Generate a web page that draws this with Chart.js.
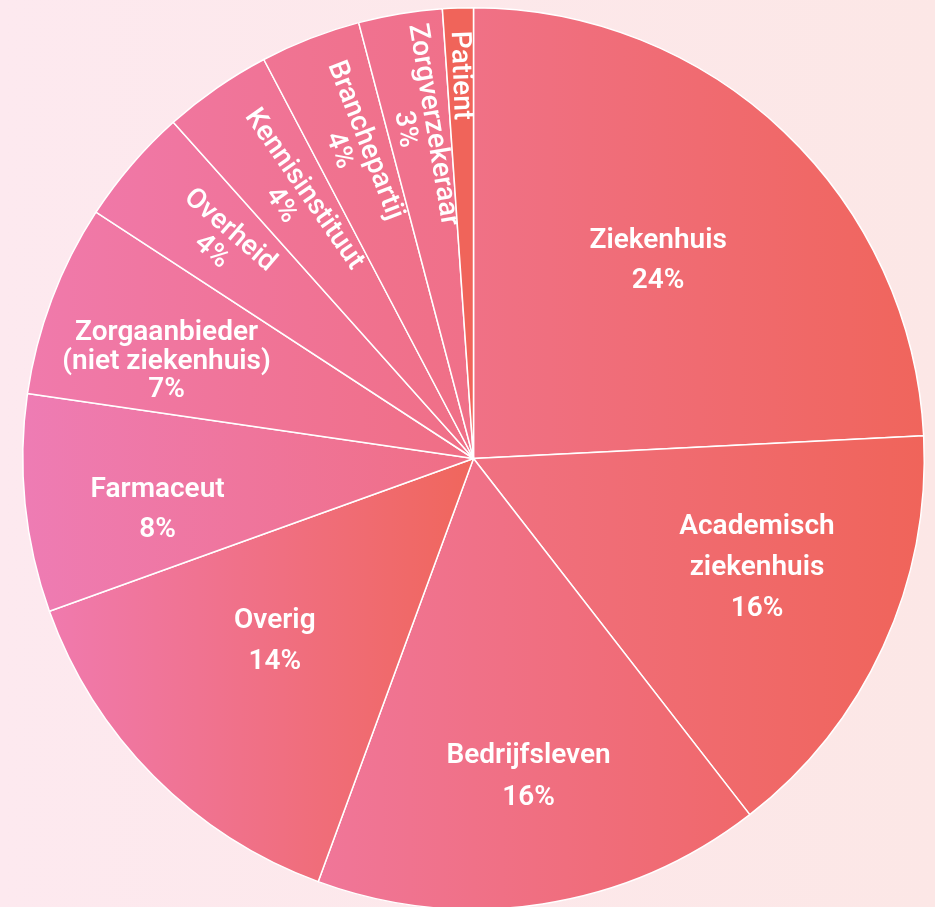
<!DOCTYPE html>
<html>
<head>
<meta charset="utf-8">
<script src="https://cdn.jsdelivr.net/npm/chart.js@4.4.1/dist/chart.umd.min.js"></script>
<style>
  html, body { margin: 0; padding: 0; width: 935px; height: 907px; overflow: hidden; }
  body { background: linear-gradient(to right, #fde9ef, #fce7e6); }
  #c { position: absolute; left: 0; top: 0; }
</style>
</head>
<body>
<canvas id="c" width="935" height="920"></canvas>
<script>
// ---- data ----
const categories = ['Ziekenhuis', 'Academisch ziekenhuis', 'Bedrijfsleven', 'Overig', 'Farmaceut',
  'Zorgaanbieder (niet ziekenhuis)', 'Overheid', 'Kennisinstituut', 'Branchepartij', 'Zorgverzekeraar', 'Patient'];
const values = [24.2, 15.3, 16.1, 13.9, 7.8, 6.9, 4.2, 3.9, 3.6, 3.0, 1.1];
const nameLines = [['Ziekenhuis'], ['Academisch', 'ziekenhuis'], ['Bedrijfsleven'], ['Overig'], ['Farmaceut'],
  ['Zorgaanbieder', '(niet ziekenhuis)'], ['Overheid'], ['Kennisinstituut'], ['Branchepartij'], ['Zorgverzekeraar'], ['Patient']];
const pctLabels = ['24%', '16%', '16%', '14%', '8%', '7%', '4%', '4%', '4%', '3%', ''];

// ---- styles ----
const leftColors  = ['#f07186', '#f07182', '#f07699', '#f07aae', '#ee7cb4', '#f07aac', '#f078a8', '#f0769e', '#f07494', '#f07290', '#f0645a'];
const rightColors = ['#f0655c', '#f0645a', '#f0686a', '#f0665c', '#f06e84', '#f06e84', '#f06f86', '#f06f86', '#f06f86', '#f07088', '#f0645a'];
const labelRadius = [0.60, 0.674, 0.716, 0.60, 0.71, 0.714, 0.74, 0.705, 0.745, 0.745, 0.85];
const labelShift  = [-0.5, -3.6, -1.0, 2.1, -3.5, -3.2, 0, 0, 0, 0, 0];
const rotated     = [false, false, false, false, false, false, true, true, true, true, true];
const lineHeights = [40, 41, 42, 41, 40, 28.5, 28, 28, 28, 28, 28];

function arcBounds(el) {
  const {x, y, startAngle, endAngle, outerRadius} = el;
  const xs = [x, x + outerRadius * Math.cos(startAngle), x + outerRadius * Math.cos(endAngle)];
  for (let k = -4; k <= 4; k++) {
    const a = k * Math.PI / 2;
    if (a > startAngle && a < endAngle) xs.push(x + outerRadius * Math.cos(a));
  }
  return [Math.min(...xs), Math.max(...xs)];
}

function sliceFill(ctx) {
  const i = ctx.dataIndex;
  const el = ctx.chart.getDatasetMeta(0).data[i];
  if (!el || !el.outerRadius) return leftColors[i];
  const [x0, x1] = arcBounds(el);
  const g = ctx.chart.ctx.createLinearGradient(x0, 0, x1, 0);
  g.addColorStop(0, leftColors[i]);
  g.addColorStop(1, rightColors[i]);
  return g;
}

const labelPlugin = {
  id: 'sliceLabels',
  afterDatasetsDraw(chart) {
    const c = chart.ctx;
    const meta = chart.getDatasetMeta(0);
    meta.data.forEach((el, i) => {
      const mid = (el.startAngle + el.endAngle) / 2 + labelShift[i] * Math.PI / 180;
      const r = el.outerRadius * labelRadius[i];
      const px = el.x + r * Math.cos(mid);
      const py = el.y + r * Math.sin(mid);
      const lines = nameLines[i].slice();
      if (pctLabels[i]) lines.push(pctLabels[i]);
      const lh = lineHeights[i];
      c.save();
      c.translate(px, py);
      if (rotated[i]) {
        c.rotate(mid + Math.PI);
        c.font = '500 28px Roboto';
      } else {
        c.font = '600 28px Roboto';
      }
      c.fillStyle = '#ffffff';
      c.textAlign = 'center';
      c.textBaseline = 'middle';
      const n = lines.length;
      lines.forEach((t, k) => {
        c.fillText(t, 0, (k - (n - 1) / 2) * lh);
      });
      c.restore();
    });
  }
};

const chart = new Chart(document.getElementById('c'), {
  type: 'pie',
  data: {
    labels: categories,
    datasets: [{
      data: values,
      backgroundColor: sliceFill,
      borderColor: '#ffffff',
      borderWidth: 1.5
    }]
  },
  options: {
    responsive: false,
    animation: false,
    layout: { padding: { left: 22, right: 10, top: 7, bottom: 10 } },
    plugins: { legend: { display: false }, tooltip: { enabled: false } }
  },
  plugins: [labelPlugin]
});
chart.update();
</script>
</body>
</html>
